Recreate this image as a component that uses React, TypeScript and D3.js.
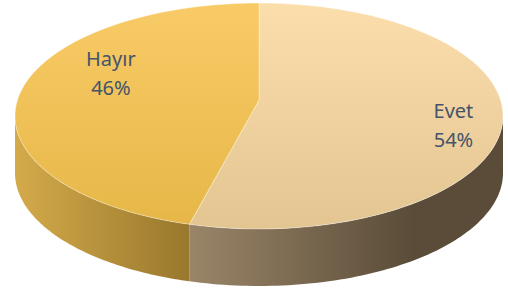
import { useEffect, useRef } from 'react';
import * as d3 from 'd3';

const categories = ['Evet', 'Hayır'];
const values = [54, 46];
const labels = ['54%', '46%'];

const topColors = [
  ['#fcdead', '#e3c592'],
  ['#f9cb67', '#e6b748'],
];
const sideColors = [
  ['#9a8568', '#5a4c38'],
  ['#d4aa4a', '#98782d'],
];
// label anchor (relative to pie center, in units of the radii)
const labelSpots = [
  { dx: 0.797, dy: 0.08 },
  { dx: -0.607, dy: -0.38 },
];

export default function App() {
  const svgRef = useRef<SVGSVGElement>(null);

  useEffect(() => {
    if (!svgRef.current) return;
    const width = 508;
    const height = 294;
    const cx = 259;
    const cy = 116;
    const rx = 244;
    const ry = 113;
    const depth = 57;
    const k = 0.14; // perspective strength

    const svg = d3.select(svgRef.current);
    svg.selectAll('*').remove();
    svg.attr('width', width).attr('height', height);

    const pie = d3.pie<number>().sort(null).value(d => d);
    const arcs = pie(values);

    const defs = svg.append('defs');
    arcs.forEach((_, i) => {
      const tg = defs.append('linearGradient')
        .attr('id', `top${i}`)
        .attr('x1', 0).attr('y1', 0).attr('x2', 0).attr('y2', 1);
      tg.append('stop').attr('offset', '0%').attr('stop-color', topColors[i][0]);
      tg.append('stop').attr('offset', '100%').attr('stop-color', topColors[i][1]);
    });

    // perspective projection of a point on the unit disk
    const yc = k / (1 - k * k);
    const proj = (u: number, v: number): [number, number] => {
      const w = 1 - k * v;
      const X = u / w;
      const Y = v / w;
      return [cx + rx * X * Math.sqrt(1 - k * k), cy + ry * (Y - yc) * (1 - k * k)];
    };
    const rim = (a: number) => proj(Math.sin(a), -Math.cos(a));
    const sample = (a0: number, a1: number) =>
      d3.range(0, 81).map(j => a0 + ((a1 - a0) * j) / 80);

    // side walls (visible front part only)
    const vis0 = Math.acos(-k);
    const vis1 = 2 * Math.PI - vis0;
    const sides = svg.append('g');
    arcs.forEach((a, i) => {
      const a0 = Math.max(a.startAngle, vis0);
      const a1 = Math.min(a.endAngle, vis1);
      if (a1 <= a0) return;
      const steps = sample(a0, a1);
      const top = steps.map(rim);
      const bottom = steps.slice().reverse().map(t => {
        const p = rim(t);
        return [p[0], p[1] + depth] as [number, number];
      });
      const xs = top.map(p => p[0]);
      const sg = defs.append('linearGradient')
        .attr('id', `side${i}`)
        .attr('gradientUnits', 'userSpaceOnUse')
        .attr('x1', d3.min(xs)!)
        .attr('x2', i === 0 ? d3.max(xs)! - 90 : d3.max(xs)!)
        .attr('y1', 0).attr('y2', 0);
      sg.append('stop').attr('offset', '0%').attr('stop-color', sideColors[i][0]);
      sg.append('stop').attr('offset', '100%').attr('stop-color', sideColors[i][1]);
      sides.append('path')
        .attr('d', d3.line()([...top, ...bottom]) + 'Z')
        .attr('fill', `url(#side${i})`);
    });

    // top face
    const center = proj(0, 0);
    svg.append('g')
      .selectAll('path')
      .data(arcs)
      .join('path')
      .attr('d', d => d3.line()([center, ...sample(d.startAngle, d.endAngle).map(rim)]) + 'Z')
      .attr('fill', (_, i) => `url(#top${i})`)
      .attr('stroke', 'rgba(255,255,255,0.35)')
      .attr('stroke-width', 1);

    // labels
    const lab = svg.append('g')
      .style('font-family', '"Noto Sans", "Open Sans", sans-serif')
      .style('font-size', '20px')
      .attr('fill', '#44546a')
      .attr('text-anchor', 'middle');
    arcs.forEach((_, i) => {
      const x = cx + labelSpots[i].dx * rx;
      const y = cy + labelSpots[i].dy * ry;
      lab.append('text').attr('x', x).attr('y', y - 7).text(categories[i]);
      lab.append('text').attr('x', x).attr('y', y + 22).text(labels[i]);
    });
  }, []);

  return (
    <div style={{ position: 'fixed', left: 0, top: 0, background: 'white' }}>
      <svg ref={svgRef}></svg>
    </div>
  );
}
